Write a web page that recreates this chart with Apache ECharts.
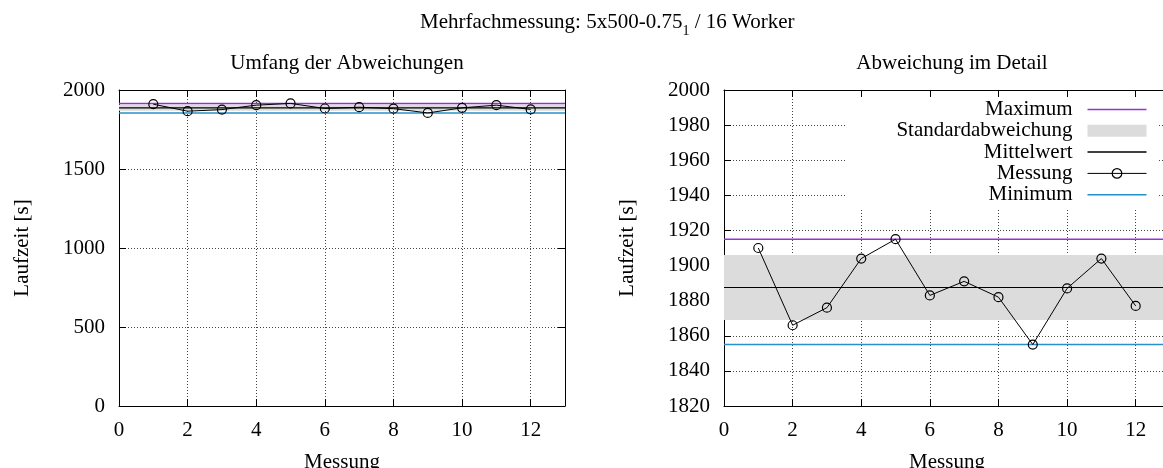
<!DOCTYPE html>
<html>
<head>
<meta charset="utf-8">
<script src="https://cdn.jsdelivr.net/npm/echarts@6/dist/echarts.min.js"></script>
<style>
html,body{margin:0;padding:0;background:#fff;}
#chart{width:1163px;height:468px;}
</style>
</head>
<body>
<div id="chart"></div>
<script>
// ---- data ----
const messungIndex = [1, 2, 3, 4, 5, 6, 7, 8, 9, 10, 11, 12];
const laufzeit = [1910, 1866, 1876, 1904, 1915, 1883, 1891, 1882, 1855, 1887, 1904, 1877];
const maximumWert = 1915;
const minimumWert = 1855;
const mittelWert = 1887.5;
const stdUnten = 1869;
const stdOben = 1906;
const xBereich = [0, 13];
const xSchritt = 2;
const yBereichLinks = [0, 2000];
const ySchrittLinks = 500;
const yBereichRechts = [1820, 2000];
const ySchrittRechts = 20;
const legendenNamen = ['Maximum', 'Standardabweichung', 'Mittelwert', 'Messung', 'Minimum'];
const titelText = 'Mehrfachmessung: 5x500-0.75';
const titelIndex = '1';
const titelRest = ' / 16 Worker';
const untertitelLinks = 'Umfang der Abweichungen';
const untertitelRechts = 'Abweichung im Detail';
const xName = 'Messung';
const yName = 'Laufzeit [s]';

// ---- styling ----
const FONT = 'Liberation Serif';
const FS = 21;
const C_MAX = '#9b30d6';
const C_MIN = '#2790c9';
const C_BAND = '#dcdcdc';
const gridLine = {show: true, lineStyle: {color: '#444', width: 1, type: [1, 2]}};
const LINE_ICON = 'path://M0,0h59v1.5h-59z';

const chart = echarts.init(document.getElementById('chart'), null, {renderer: 'canvas'});

const grids = [
  {left: 119, top: 90, width: 446, height: 316, containLabel: false, outerBoundsMode: 'none'},
  {left: 724, top: 90, width: 446, height: 316, containLabel: false, outerBoundsMode: 'none'}
];

function xAxes(gi) {
  return [
    {
      type: 'value', gridIndex: gi, min: xBereich[0], max: xBereich[1], interval: xSchritt,
      position: 'bottom', z: 0,
      name: xName, nameLocation: 'middle', nameGap: 46,
      nameTextStyle: {fontFamily: FONT, fontSize: FS, color: '#000'},
      axisLine: {show: true, onZero: false, lineStyle: {color: '#000', width: 1}},
      axisTick: {show: true, inside: true, length: 7, lineStyle: {color: '#000'}},
      axisLabel: {show: true, margin: 14, fontFamily: FONT, fontSize: FS, color: '#000',
        showMaxLabel: false, formatter: v => (v === xBereich[1] ? '' : String(v))},
      splitLine: gridLine
    },
    {
      type: 'value', gridIndex: gi, min: xBereich[0], max: xBereich[1], interval: xSchritt,
      position: 'top', z: 5,
      axisLine: {show: true, onZero: false, lineStyle: {color: '#000', width: 1}},
      axisTick: {show: true, inside: true, length: 7, lineStyle: {color: '#000'}},
      axisLabel: {show: false},
      splitLine: {show: false}
    }
  ];
}

function yAxes(gi, bereich, schritt) {
  return [
    {
      type: 'value', gridIndex: gi, min: bereich[0], max: bereich[1], interval: schritt,
      position: 'left', z: 0,
      name: yName, nameLocation: 'middle', nameGap: 86, nameRotate: 90,
      nameTextStyle: {fontFamily: FONT, fontSize: FS, color: '#000'},
      axisLine: {show: true, onZero: false, lineStyle: {color: '#000', width: 1}},
      axisTick: {show: true, inside: true, length: 7, lineStyle: {color: '#000'}},
      axisLabel: {show: true, margin: 14, fontFamily: FONT, fontSize: FS, color: '#000',
        formatter: v => String(v)},
      splitLine: gridLine
    },
    {
      type: 'value', gridIndex: gi, min: bereich[0], max: bereich[1], interval: schritt,
      position: 'right', z: 5,
      axisLine: {show: true, onZero: false, lineStyle: {color: '#000', width: 1}},
      axisTick: {show: true, inside: true, length: 7, lineStyle: {color: '#000'}},
      axisLabel: {show: false},
      splitLine: {show: false}
    }
  ];
}

function seriesFor(gi) {
  const xi = gi * 2, yi = gi * 2;
  return [
    {
      name: 'Standardabweichung', type: 'line', xAxisIndex: xi, yAxisIndex: yi,
      data: [[xBereich[0], mittelWert], [xBereich[1], mittelWert]],
      symbol: 'none', silent: true, z: 1,
      lineStyle: {width: 0, color: C_BAND}, itemStyle: {color: C_BAND},
      markArea: {silent: true, itemStyle: {color: C_BAND}, data: [[{yAxis: stdUnten}, {yAxis: stdOben}]]}
    },
    {
      name: 'Maximum', type: 'line', xAxisIndex: xi, yAxisIndex: yi,
      data: [[xBereich[0], maximumWert], [xBereich[1], maximumWert]],
      symbol: 'none', silent: true, z: 2,
      lineStyle: {color: C_MAX, width: 1.5}, itemStyle: {color: C_MAX}
    },
    {
      name: 'Mittelwert', type: 'line', xAxisIndex: xi, yAxisIndex: yi,
      data: [[xBereich[0], mittelWert], [xBereich[1], mittelWert]],
      symbol: 'none', silent: true, z: 2,
      lineStyle: {color: '#000', width: 1.2}, itemStyle: {color: '#000'}
    },
    {
      name: 'Minimum', type: 'line', xAxisIndex: xi, yAxisIndex: yi,
      data: [[xBereich[0], minimumWert], [xBereich[1], minimumWert]],
      symbol: 'none', silent: true, z: 2,
      lineStyle: {color: C_MIN, width: 1.5}, itemStyle: {color: C_MIN}
    },
    {
      name: 'Messung', type: 'line', xAxisIndex: xi, yAxisIndex: yi,
      data: messungIndex.map((x, i) => [x, laufzeit[i]]),
      symbol: 'circle', symbolSize: 9, showSymbol: true, silent: true, z: 3,
      lineStyle: {color: '#000', width: 1},
      itemStyle: {color: 'rgba(0,0,0,0)', borderColor: '#000', borderWidth: 1.2}
    }
  ];
}

const option = {
  backgroundColor: '#fff',
  animation: false,
  title: [
    {
      text: '{a|' + titelText + '}{s|' + titelIndex + '}{a|' + titelRest + '}',
      left: 415, top: 11,
      textStyle: {
        fontFamily: FONT, fontSize: FS, color: '#000', fontWeight: 'normal',
        rich: {
          a: {fontFamily: FONT, fontSize: FS, color: '#000', lineHeight: 22, padding: [0, 0, 5, 0], verticalAlign: 'bottom'},
          s: {fontFamily: FONT, fontSize: 14, color: '#000', lineHeight: 14, verticalAlign: 'bottom'}
        }
      }
    },
    {
      text: untertitelLinks, left: 342, top: 48, textAlign: 'center',
      textStyle: {fontFamily: FONT, fontSize: FS, color: '#000', fontWeight: 'normal'}
    },
    {
      text: untertitelRechts, left: 947, top: 48, textAlign: 'center',
      textStyle: {fontFamily: FONT, fontSize: FS, color: '#000', fontWeight: 'normal'}
    }
  ],
  grid: grids,
  xAxis: [...xAxes(0), ...xAxes(1)],
  yAxis: [...yAxes(0, yBereichLinks, ySchrittLinks), ...yAxes(1, yBereichRechts, ySchrittRechts)],
  graphic: [
    {type: 'rect', z: 1, silent: true, shape: {x: 846, y: 91, width: 311, height: 117},
     style: {fill: '#fff', stroke: null}}
  ],
  legend: {
    orient: 'vertical', align: 'right', right: 16, top: 99, padding: 0,
    itemWidth: 59, itemHeight: 12, itemGap: 0.3, z: 6,
    selectedMode: false,
    textStyle: {fontFamily: FONT, fontSize: FS, color: '#000', padding: [0, 10, 0, 0]},
    data: [
      {name: legendenNamen[0], icon: LINE_ICON, itemStyle: {color: C_MAX}},
      {name: legendenNamen[1], icon: 'rect', itemStyle: {color: C_BAND}},
      {name: legendenNamen[2], icon: LINE_ICON, itemStyle: {color: '#000'}},
      {name: legendenNamen[3], lineStyle: {width: 1, color: '#000'},
       itemStyle: {color: 'rgba(0,0,0,0)', borderColor: '#000', borderWidth: 1.2}},
      {name: legendenNamen[4], icon: LINE_ICON, itemStyle: {color: C_MIN}}
    ]
  },
  series: [...seriesFor(0), ...seriesFor(1)]
};

chart.setOption(option);
</script>
</body>
</html>
